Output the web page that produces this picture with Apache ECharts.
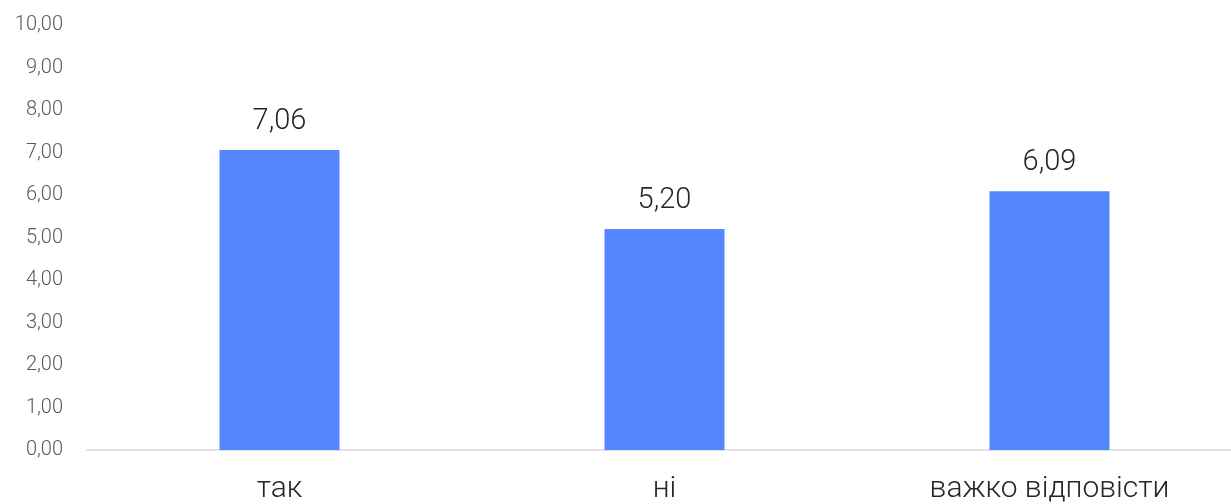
<!DOCTYPE html>
<html><head><meta charset="utf-8">
<script src="https://cdn.jsdelivr.net/npm/echarts@6/dist/echarts.min.js"></script>
<style>html,body{margin:0;padding:0;background:#fff;overflow:hidden}#c{width:1242px;height:504px}</style>
</head><body><div id="c"></div>
<script>
const categories = ['так', 'ні', 'важко відповісти'];
const values = [7.06, 5.20, 6.09];
const yTicks = [0, 1, 2, 3, 4, 5, 6, 7, 8, 9, 10];
const fmt = v => v.toFixed(2).replace('.', ',');
const chart = echarts.init(document.getElementById('c'));
chart.setOption({
  animation: false,
  grid: {left: 87, right: 0, top: 25, bottom: 53},
  xAxis: {
    type: 'category', data: categories,
    axisLine: {lineStyle: {color: '#d9d9d9', width: 1.5}},
    axisTick: {show: false},
    axisLabel: {color: '#262626', fontSize: 30, fontFamily: 'Roboto', fontWeight: 300, margin: 24}
  },
  yAxis: {
    type: 'value', min: yTicks[0], max: yTicks[yTicks.length - 1], interval: 1,
    axisLine: {show: false}, axisTick: {show: false}, splitLine: {show: false},
    axisLabel: {color: '#595959', fontSize: 20, fontFamily: 'Roboto', fontWeight: 300, margin: 24, formatter: fmt}
  },
  series: [{
    type: 'bar', data: values, barWidth: 120,
    itemStyle: {color: '#5487FD'},
    label: {show: true, position: 'top', distance: 14, color: '#262626', fontSize: 29, fontFamily: 'Roboto', fontWeight: 300, formatter: p => fmt(p.value)}
  }]
});
</script></body></html>
